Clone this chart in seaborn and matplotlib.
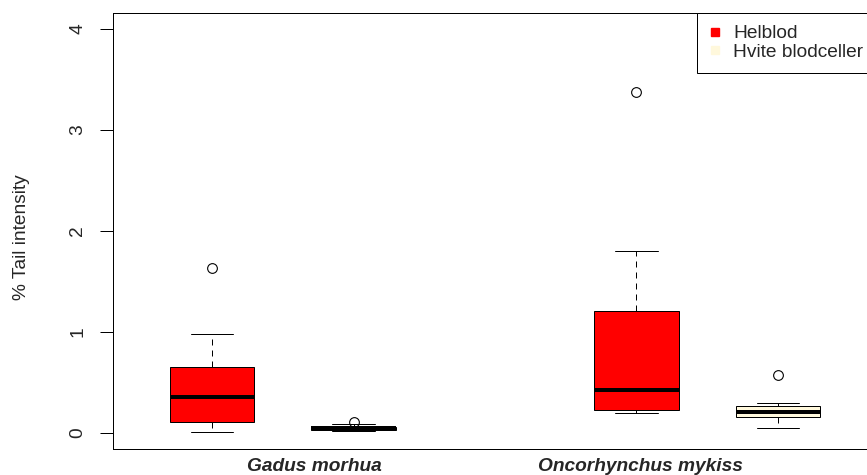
import matplotlib
matplotlib.use("Agg")
import matplotlib.pyplot as plt
from matplotlib.lines import Line2D
import seaborn as sns
import pandas as pd

# ---- data ----
species = ["Gadus morhua", "Oncorhynchus mykiss"]
sample_types = ["Helblod", "Hvite blodceller"]
positions = [1, 2, 4, 5]
label_positions = [1.72, 4.03]

gadus_helblod = [0.013, 0.109, 0.109, 0.36, 0.36, 0.65, 0.65, 0.977, 1.63]
gadus_hvite = [0.02, 0.03, 0.03, 0.045, 0.045, 0.055, 0.055, 0.086, 0.103]
onco_helblod = [0.195, 0.228, 0.228, 0.426, 0.426, 1.21, 1.21, 1.805, 3.38]
onco_hvite = [0.046, 0.155, 0.155, 0.205, 0.205, 0.267, 0.267, 0.294, 0.574]

colors = {"Helblod": "#FF0000", "Hvite blodceller": "#FFF8DC"}
yticks = [0, 1, 2, 3, 4]

groups = [gadus_helblod, gadus_hvite, onco_helblod, onco_hvite]
types = ["Helblod", "Hvite blodceller", "Helblod", "Hvite blodceller"]
rows = []
for pos, vals, t in zip(positions, groups, types):
    for v in vals:
        rows.append({"pos": pos, "value": v, "type": t})
df = pd.DataFrame(rows)

# ---- style ----
sns.set_style("white")
plt.rcParams["font.family"] = ["Liberation Sans", "DejaVu Sans"]
FS = 13.8
PX = 0.72  # one pixel in points at 100 dpi

W, H = 867, 475
fig = plt.figure(figsize=(W / 100, H / 100), dpi=100)
left, right, top, bottom = 113, 877, 13, 449
ax = fig.add_axes([left / W, 1 - bottom / H, (right - left) / W, (bottom - top) / H])

sns.boxplot(
    data=df, x="pos", y="value", hue="type", palette=colors, hue_order=sample_types,
    native_scale=True, dodge=False, width=0.6, saturation=1, legend=False,
    linecolor="black", linewidth=PX, whis=1.5, ax=ax,
    medianprops=dict(color="black", linewidth=4 * PX),
    whiskerprops=dict(color="black", linewidth=PX, linestyle=(0, (6, 5))),
    capprops=dict(color="black", linewidth=PX),
    boxprops=dict(edgecolor="black", linewidth=PX),
    flierprops=dict(marker="o", markerfacecolor="none", markeredgecolor="black",
                    markersize=7, markeredgewidth=PX * 1.1),
)

ax.set_xlim(0.3, 5.7)
ax.set_ylim(-0.16, 4.16)
ax.set_yticks(yticks)
ax.set_yticklabels([str(t) for t in yticks], rotation=90, va="center", fontsize=FS)
ax.tick_params(axis="y", length=13 * PX, width=PX, color="black", pad=10, left=True)
ax.set_xticks(label_positions)
ax.set_xticklabels(species, fontstyle="italic", fontweight="bold", fontsize=FS)
ax.tick_params(axis="x", length=0, pad=6.5)
ax.set_xlabel("")
ax.set_ylabel("")
for s in ax.spines.values():
    s.set_visible(True)
    s.set_color("black")
    s.set_linewidth(PX)

fig.text(22 / W, 1 - 237 / H, "% Tail intensity", rotation=90, ha="center",
         va="center", fontsize=FS)

handles = [Line2D([], [], marker="s", linestyle="none", markersize=6,
                  markerfacecolor=colors[t], markeredgecolor=colors[t]) for t in sample_types]
leg = fig.legend(handles, sample_types, loc="upper left",
                 bbox_to_anchor=(697 / W, 1 - 13 / H), bbox_transform=fig.transFigure,
                 borderaxespad=0, fontsize=FS, frameon=True, fancybox=False,
                 framealpha=1, edgecolor="black", borderpad=0.63, labelspacing=0.05,
                 handlelength=0.63, handletextpad=0.63)
leg.get_frame().set_linewidth(PX)

fig.savefig("out.png", dpi=100)
